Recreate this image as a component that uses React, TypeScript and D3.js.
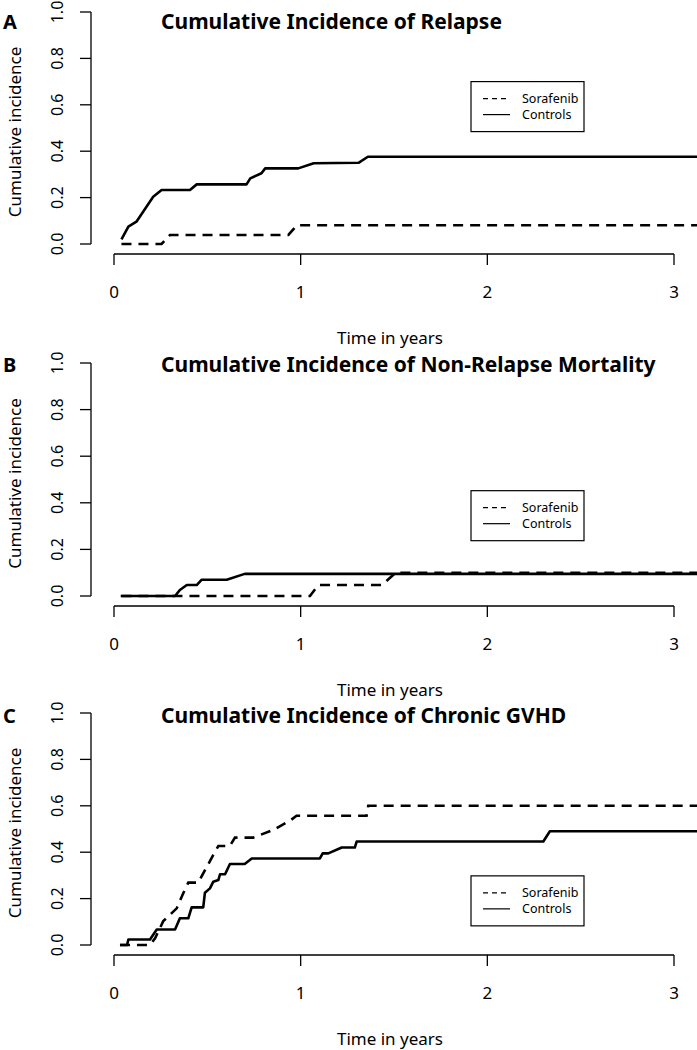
import React from "react";
import * as d3 from "d3";

type Pt = [number, number];

const xTicks = [0, 1, 2, 3];
const yTicks = [0, 0.2, 0.4, 0.6, 0.8, 1.0];
const legendLabels = ["Sorafenib", "Controls"];
const panelLetters = ["A", "B", "C"];
const panelTitles = [
  "Cumulative Incidence of Relapse",
  "Cumulative Incidence of Non-Relapse Mortality",
  "Cumulative Incidence of Chronic GVHD",
];

const relapseControls: Pt[] = [
  [0.04, 0.02], [0.077, 0.075], [0.12, 0.096], [0.157, 0.14], [0.21, 0.204], [0.255, 0.233],
  [0.407, 0.233], [0.443, 0.257], [0.71, 0.257], [0.73, 0.283], [0.79, 0.305], [0.81, 0.326],
  [0.987, 0.326], [1.07, 0.348], [1.31, 0.35], [1.36, 0.376], [3.3, 0.376],
];
const relapseSorafenib: Pt[] = [
  [0.04, 0], [0.255, 0], [0.3, 0.039], [0.934, 0.039], [0.98, 0.081], [3.3, 0.081],
];
const nrmControls: Pt[] = [
  [0.036, 0], [0.327, 0], [0.353, 0.026], [0.39, 0.047], [0.443, 0.047], [0.47, 0.07],
  [0.604, 0.07], [0.7, 0.095], [3.3, 0.095],
];
const nrmSorafenib: Pt[] = [
  [0.04, 0], [1.05, 0], [1.094, 0.047], [1.434, 0.047], [1.51, 0.1], [3.3, 0.1],
];
const gvhdControls: Pt[] = [
  [0.032, 0], [0.07, 0], [0.077, 0.024], [0.193, 0.024], [0.229, 0.067], [0.327, 0.067],
  [0.353, 0.115], [0.398, 0.115], [0.416, 0.162], [0.478, 0.162], [0.487, 0.225], [0.514, 0.244],
  [0.532, 0.273], [0.559, 0.28], [0.568, 0.305], [0.595, 0.305], [0.621, 0.349], [0.7, 0.349],
  [0.738, 0.373], [1.103, 0.373], [1.118, 0.395], [1.148, 0.395], [1.22, 0.42], [1.29, 0.42],
  [1.3, 0.446], [2.3, 0.446], [2.335, 0.49], [3.3, 0.49],
];
const gvhdSorafenib: Pt[] = [
  [0.032, 0], [0.193, 0], [0.22, 0.029], [0.264, 0.103], [0.28, 0.115], [0.336, 0.158],
  [0.371, 0.223], [0.398, 0.269], [0.452, 0.269], [0.478, 0.309], [0.532, 0.388], [0.559, 0.427],
  [0.621, 0.427], [0.648, 0.463], [0.746, 0.463], [0.854, 0.496], [0.943, 0.536], [0.978, 0.557],
  [1.353, 0.557], [1.362, 0.6], [3.3, 0.6],
];

const seriesSorafenib = [relapseSorafenib, nrmSorafenib, gvhdSorafenib];
const seriesControls = [relapseControls, nrmControls, gvhdControls];
// legend box top edge, in data units
const legendTops = [0.7, 0.452, 0.298];

const FONT = "'Noto Sans', 'Open Sans', sans-serif";

const panelLayout = [
  { y0: 244, y1: 12, titleY: 29 },
  { y0: 596, y1: 363, titleY: 372 },
  { y0: 945, y1: 713, titleY: 723 },
];

function Panel({ idx }: { idx: number }) {
  const L = panelLayout[idx];
  const x = d3.scaleLinear().domain([0, 3]).range([114, 674]);
  const y = d3.scaleLinear().domain([0, 1]).range([L.y0, L.y1]);
  const line = d3.line<Pt>().x((d) => x(d[0])).y((d) => y(d[1]));
  const axisY = L.y0 + 10;
  const yAxisX = 91;
  const legX = 471;
  const legY = y(legendTops[idx]);
  return (
    <g>
      <path d={line(seriesControls[idx]) || ""} fill="none" stroke="#000" strokeWidth={2.6} strokeLinejoin="round" />
      <path d={line(seriesSorafenib[idx]) || ""} fill="none" stroke="#000" strokeWidth={2.6} strokeDasharray="10,7" />
      <line x1={yAxisX} x2={yAxisX} y1={y(0)} y2={y(1)} stroke="#000" strokeWidth={1.3} />
      {yTicks.map((t) => (
        <g key={t}>
          <line x1={yAxisX - 11} x2={yAxisX} y1={y(t)} y2={y(t)} stroke="#000" strokeWidth={1.3} />
          <text
            transform={`translate(63,${y(t)}) rotate(-90)`}
            textAnchor="middle"
            fontFamily={FONT}
            fontSize={16}
          >
            {t.toFixed(1)}
          </text>
        </g>
      ))}
      <text
        transform={`translate(21,${(L.y0 + L.y1) / 2 + 4}) rotate(-90)`}
        textAnchor="middle"
        fontFamily={FONT}
        fontSize={17}
      >
        Cumulative incidence
      </text>
      <line x1={x(0)} x2={x(3)} y1={axisY} y2={axisY} stroke="#000" strokeWidth={1.3} />
      {xTicks.map((t) => (
        <g key={t}>
          <line x1={x(t)} x2={x(t)} y1={axisY} y2={axisY + 11} stroke="#000" strokeWidth={1.3} />
          <text x={x(t)} y={L.y0 + 54} textAnchor="middle" fontFamily={FONT} fontSize={17}>
            {t}
          </text>
        </g>
      ))}
      <text x={390} y={L.y0 + 100} textAnchor="middle" fontFamily={FONT} fontSize={17}>
        Time in years
      </text>
      <text x={3} y={L.titleY} fontFamily={FONT} fontWeight="bold" fontSize={20}>
        {panelLetters[idx]}
      </text>
      <text x={161} y={L.titleY} fontFamily={FONT} fontWeight="bold" fontSize={21}>
        {panelTitles[idx]}
      </text>
      <rect x={legX} y={legY} width={113} height={50} fill="#fff" stroke="#000" strokeWidth={1.2} />
      {legendLabels.map((lab, i) => {
        const ly = legY + 17 + i * 16;
        return (
          <g key={lab}>
            <line
              x1={legX + 12}
              x2={legX + 39}
              y1={ly}
              y2={ly}
              stroke="#000"
              strokeWidth={1.2}
              strokeDasharray={i === 0 ? "5,4" : undefined}
            />
            <text x={legX + 51} y={ly + 4.5} fontFamily={FONT} fontSize={12.5}>
              {lab}
            </text>
          </g>
        );
      })}
    </g>
  );
}

export default function App() {
  return (
    <svg
      width={697}
      height={1050}
      style={{ position: "absolute", left: 0, top: 0, background: "#fff" }}
    >
      <rect x={0} y={0} width={697} height={1050} fill="#fff" />
      {[0, 1, 2].map((i) => (
        <Panel key={i} idx={i} />
      ))}
    </svg>
  );
}
